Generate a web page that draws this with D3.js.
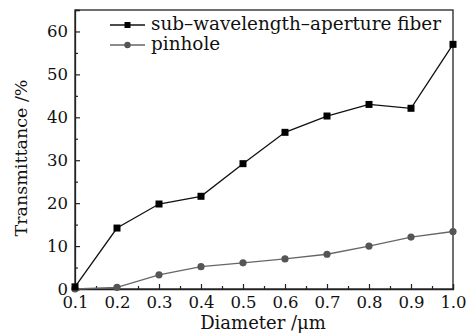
<!DOCTYPE html>
<html>
<head>
<meta charset="utf-8">
<script src="https://cdn.jsdelivr.net/npm/d3@7"></script>
<style>
  body { margin: 0; background: #fff; }
</style>
</head>
<body>
<div class="chart"></div>
<script>
var w = 466,
  h = 333,
  margin = {top: 10, right: 13, bottom: 44, left: 75},
  fontFamily = '"DejaVu Serif", "Liberation Serif", "Times New Roman", serif';

var diameters = [0.1, 0.2, 0.3, 0.4, 0.5, 0.6, 0.7, 0.8, 0.9, 1.0];
var fiberValues = [0.5, 14.2, 19.8, 21.6, 29.2, 36.5, 40.3, 43.0, 42.1, 57.0];
var pinholeValues = [0, 0.4, 3.3, 5.2, 6.1, 7.0, 8.1, 10.0, 12.1, 13.4];
var xTicks = [0.1, 0.2, 0.3, 0.4, 0.5, 0.6, 0.7, 0.8, 0.9, 1.0];
var yTicks = [0, 10, 20, 30, 40, 50, 60];
var seriesNames = ['sub\u2013wavelength\u2013aperture fiber', 'pinhole'];

var svg = d3.select('.chart')
  .append('svg')
  .attr('width', w)
  .attr('height', h)
  .attr('font-family', fontFamily);

var x = d3.scaleLinear().domain([0.1, 1.0]).range([margin.left, w - margin.right]);
var y = d3.scaleLinear().domain([0, 65]).range([h - margin.bottom, margin.top]);

// frame
svg.append('rect')
  .attr('x', margin.left)
  .attr('y', margin.top)
  .attr('width', w - margin.left - margin.right)
  .attr('height', h - margin.top - margin.bottom)
  .attr('fill', 'none')
  .attr('stroke', '#222')
  .attr('stroke-width', 1.3);

// x axis, ticks pointing inward
svg.append('g')
  .attr('transform', 'translate(0,' + (h - margin.bottom) + ')')
  .call(d3.axisBottom(x).tickValues(xTicks).tickSize(-5).tickPadding(7).tickFormat(d3.format('.1f')));
svg.append('g')
  .attr('transform', 'translate(0,' + (h - margin.bottom) + ')')
  .call(d3.axisBottom(x).tickValues(d3.range(0.15, 1.0, 0.1)).tickSize(-3).tickFormat(''))
  .select('.domain').remove();

svg.append('g')
  .attr('transform', 'translate(' + margin.left + ',0)')
  .call(d3.axisLeft(y).tickValues(yTicks).tickSize(-5).tickPadding(7));
svg.append('g')
  .attr('transform', 'translate(' + margin.left + ',0)')
  .call(d3.axisLeft(y).tickValues([5, 15, 25, 35, 45, 55, 65]).tickSize(-3).tickFormat(''))
  .select('.domain').remove();

svg.selectAll('g').attr('font-family', fontFamily);
svg.selectAll('.domain').attr('stroke', '#222').attr('stroke-width', 1.3);
svg.selectAll('.tick line').attr('stroke', '#222').attr('stroke-width', 1.2);
svg.selectAll('.tick text')
  .attr('font-family', fontFamily)
  .attr('font-size', 16.5)
  .attr('fill', '#111');

// axis titles
svg.append('text')
  .attr('x', 263)
  .attr('y', 329)
  .attr('text-anchor', 'middle')
  .attr('font-size', 18)
  .attr('fill', '#111')
  .text('Diameter /\u03bcm');

svg.append('text')
  .attr('transform', 'translate(27,158) rotate(-90)')
  .attr('text-anchor', 'middle')
  .attr('font-size', 17.5)
  .attr('fill', '#111')
  .text('Transmittance /%');

var line = d3.line()
  .x(function (d) { return x(d[0]); })
  .y(function (d) { return y(d[1]); });

var pinData = d3.zip(diameters, pinholeValues);
var fibData = d3.zip(diameters, fiberValues);

// pinhole series (gray circles)
svg.append('path')
  .datum(pinData)
  .attr('d', line)
  .attr('fill', 'none')
  .attr('stroke', '#666')
  .attr('stroke-width', 1.3);
svg.selectAll('.pin')
  .data(pinData)
  .enter()
  .append('circle')
  .attr('class', 'pin')
  .attr('cx', function (d) { return x(d[0]); })
  .attr('cy', function (d) { return y(d[1]); })
  .attr('r', 3.6)
  .attr('fill', '#555');

// fiber series (black squares)
svg.append('path')
  .datum(fibData)
  .attr('d', line)
  .attr('fill', 'none')
  .attr('stroke', '#111')
  .attr('stroke-width', 1.3);
svg.selectAll('.fib')
  .data(fibData)
  .enter()
  .append('rect')
  .attr('class', 'fib')
  .attr('x', function (d) { return x(d[0]) - 3.5; })
  .attr('y', function (d) { return y(d[1]) - 3.5; })
  .attr('width', 7)
  .attr('height', 7)
  .attr('fill', '#000');

// legend
var legend = svg.append('g').attr('transform', 'translate(110,0)');
var legendColors = ['#111', '#666'];
var markerColors = ['#000', '#555'];
seriesNames.forEach(function (name, i) {
  var ly = 25 + i * 20;
  legend.append('line')
    .attr('x1', 0).attr('x2', 35)
    .attr('y1', ly).attr('y2', ly)
    .attr('stroke', legendColors[i])
    .attr('stroke-width', 1.3);
  if (i === 0) {
    legend.append('rect')
      .attr('x', 17.5 - 3).attr('y', ly - 3)
      .attr('width', 6).attr('height', 6)
      .attr('fill', markerColors[i]);
  } else {
    legend.append('circle')
      .attr('cx', 17.5).attr('cy', ly).attr('r', 3.2)
      .attr('fill', markerColors[i]);
  }
  legend.append('text')
    .attr('x', 41)
    .attr('y', ly + 5)
    .attr('font-size', 18.4)
    .attr('fill', '#111')
    .text(name);
});
</script>
</body>
</html>
